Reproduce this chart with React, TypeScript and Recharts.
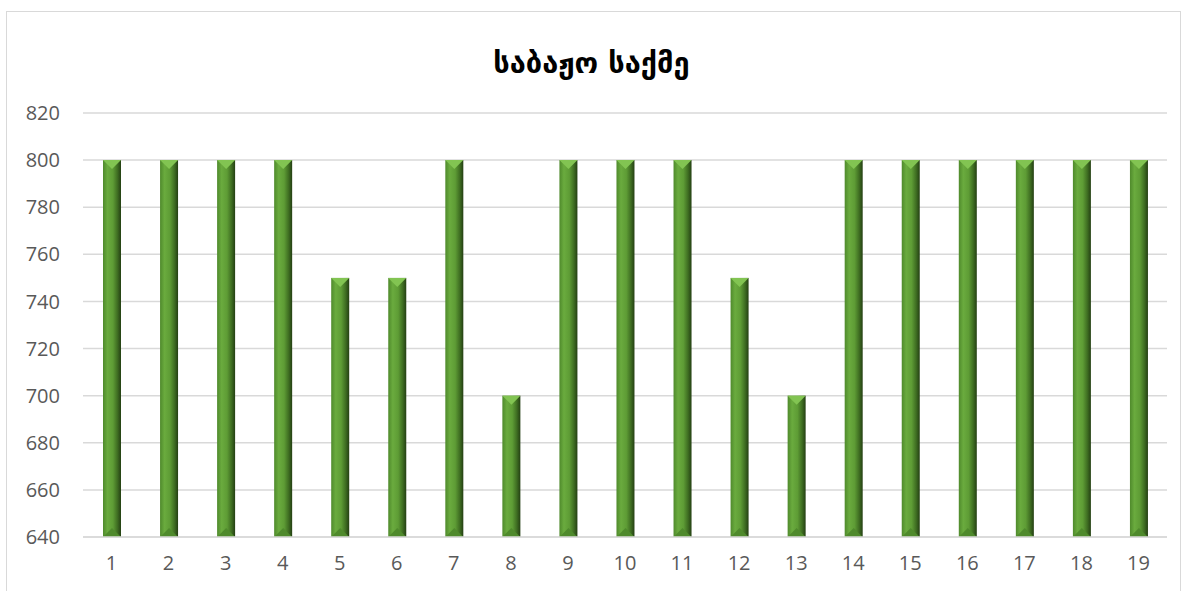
import React from 'react';
import { BarChart, Bar, XAxis, YAxis, CartesianGrid } from 'recharts';

const categories = ['1', '2', '3', '4', '5', '6', '7', '8', '9', '10', '11', '12', '13', '14', '15', '16', '17', '18', '19'];
const values = [800, 800, 800, 800, 750, 750, 800, 700, 800, 800, 800, 750, 700, 800, 800, 800, 800, 800, 800];
const yTicks = [640, 660, 680, 700, 720, 740, 760, 780, 800, 820];
const title = 'საბაჟო საქმე';

const data = categories.map((name, i) => ({ name, value: values[i] }));

// bevelled column, like the excel preset
const BevelBar = (props: any) => {
  const { x, y, width, height } = props;
  if (!height || height <= 0) return null;
  const b = Math.min(width / 2, 9);
  const cx = x + width / 2;
  return (
    <g>
      <rect x={x} y={y} width={width} height={height} fill="url(#barGrad)" />
      <polygon points={`${x},${y} ${x + width},${y} ${cx},${y + b}`} fill="#82c452" />
      <polygon points={`${x},${y + height} ${x + width},${y + height} ${cx},${y + height - b}`} fill="#4f8a2c" />
    </g>
  );
};

const App: React.FC = () => {
  return (
    <div style={{ position: 'relative', width: 1183, height: 591, overflow: 'hidden' }}>
      <style>{'body{margin:0}'}</style>
      <div
        style={{
          position: 'absolute',
          left: 6,
          top: 11,
          width: 1175,
          height: 620,
          border: '1px solid #d9d9d9',
          boxSizing: 'border-box',
        }}
      />
      <div
        style={{
          position: 'absolute',
          top: 46,
          left: 0,
          width: 1183,
          textAlign: 'center',
          fontFamily: '"DejaVu Sans", sans-serif',
          fontWeight: 'bold',
          fontSize: 29,
          color: '#000',
        }}
      >
        {title}
      </div>
      <div style={{ position: 'absolute', left: 0, top: 0 }}>
        <BarChart width={1183} height={591} data={data} margin={{ top: 113, right: 16, bottom: 24, left: 0 }}>
          <defs>
            <linearGradient id="barGrad" x1="0" y1="0" x2="1" y2="0">
              <stop offset="0%" stopColor="#4f8a2c" />
              <stop offset="25%" stopColor="#6aab3e" />
              <stop offset="55%" stopColor="#5e9c35" />
              <stop offset="80%" stopColor="#3f6e22" />
              <stop offset="100%" stopColor="#243f13" />
            </linearGradient>
          </defs>
          <CartesianGrid vertical={false} stroke="#d9d9d9" strokeWidth={1.5} />
          <XAxis
            dataKey="name"
            height={30}
            tickLine={false}
            tickSize={0}
            tickMargin={19}
            axisLine={{ stroke: '#d9d9d9', strokeWidth: 1.5 }}
            tick={{ fill: '#595959', fontSize: 20, fontFamily: '"Open Sans", sans-serif' }}
            interval={0}
          />
          <YAxis
            width={83}
            domain={[640, 820]}
            ticks={yTicks}
            allowDataOverflow
            axisLine={false}
            tickLine={false}
            tickSize={0}
            tickMargin={23}
            tick={{ fill: '#595959', fontSize: 20, fontFamily: '"Open Sans", sans-serif' }}
          />
          <Bar dataKey="value" barSize={18} shape={<BevelBar />} isAnimationActive={false} />
        </BarChart>
      </div>
    </div>
  );
};

export default App;
